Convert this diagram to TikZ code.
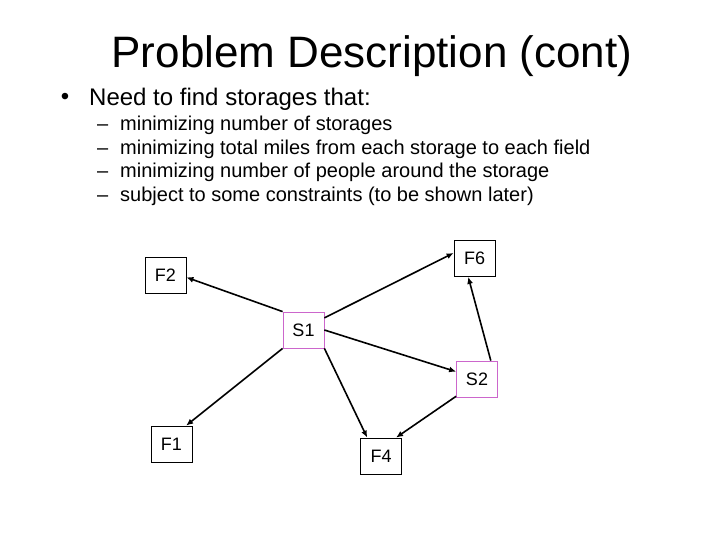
\documentclass[tikz,border=0pt]{standalone}
\usepackage{fontspec}
\setmainfont{Liberation Sans}
\usetikzlibrary{arrows.meta,calc}
\definecolor{sbox}{RGB}{204,102,204}
\tikzset{
  fbox/.style={draw=black, line width=0.8pt, minimum width=41pt, minimum height=36pt, inner sep=0pt, font=\fontsize{18}{20}\selectfont},
  sboxst/.style={fbox, draw=sbox},
  conn/.style={line width=1.6pt, -{Latex[length=7pt,width=6pt]}},
  txt/.style={anchor=base west, inner sep=0pt},
}
\begin{document}
\begin{tikzpicture}[x=1pt,y=-1pt]
\useasboundingbox (0,0) rectangle (720,540);
\node[anchor=base, inner sep=0pt, font=\fontsize{44}{52}\selectfont] (title) at (372,68) {Problem Description (cont)};
\node[anchor=center, inner sep=0pt, font=\fontsize{24}{28}\selectfont] (bul) at (65,99) {•};
\node[txt, font=\fontsize{24}{28}\selectfont] (b0) at (89,106) {Need to find storages that:};
\node[txt, font=\fontsize{20}{24}\selectfont] (d1) at (97,130.5) {–};
\node[txt, font=\fontsize{20}{24}\selectfont] (b1) at (120,130.5) {minimizing number of storages};
\node[txt, font=\fontsize{20}{24}\selectfont] (d2) at (97,154.3) {–};
\node[txt, font=\fontsize{20}{24}\selectfont] (b2) at (120,154.3) {minimizing total miles from each storage to each field};
\node[txt, font=\fontsize{20}{24}\selectfont] (d3) at (97,178) {–};
\node[txt, font=\fontsize{20}{24}\selectfont] (b3) at (120,178) {minimizing number of people around the storage};
\node[txt, font=\fontsize{20}{24}\selectfont] (d4) at (97,201.7) {–};
\node[txt, font=\fontsize{20}{24}\selectfont] (b4) at (120,201.7) {subject to some constraints (to be shown later)};

\node[fbox] (F2) at (165.5,275.5) {F2};
\node[fbox] (F6) at (474.5,258.5) {F6};
\node[sboxst] (S1) at (303.5,330) {S1};
\node[sboxst] (S2) at (477,379) {S2};
\node[fbox] (F1) at (171.5,444) {F1};
\node[fbox] (F4) at (381,456) {F4};

\draw[conn] (S1.north west) -- ($(F2.north east)!0.55!(F2.south east)$);
\draw[conn] ($(S1.north east)!0.17!(S1.south east)$) -- ($(F6.north west)!0.35!(F6.south west)$);
\draw[conn] (S1.east) -- ($(S2.north west)!0.3!(S2.south west)$);
\draw[conn] ($(S2.north west)!0.83!(S2.north east)$) -- ($(F6.south west)!0.35!(F6.south east)$);
\draw[conn] (S1.south west) -- ($(F1.north west)!0.85!(F1.north east)$);
\draw[conn] (S1.south east) -- ($(F4.north west)!0.17!(F4.north east)$);
\draw[conn] ($(S2.north west)!0.97!(S2.south west)$) -- ($(F4.north west)!0.86!(F4.north east)$);
\end{tikzpicture}
\end{document}
